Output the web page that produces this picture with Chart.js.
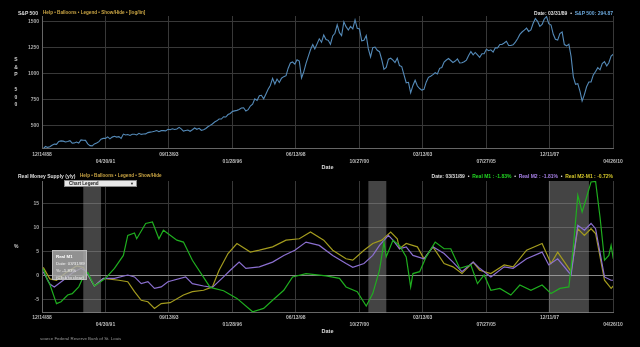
<!DOCTYPE html>
<html>
<head>
<meta charset="utf-8">
<script src="https://cdn.jsdelivr.net/npm/chart.js@4.4.1/dist/chart.umd.min.js"></script>
<style>
  body { margin: 0; background: #000; width: 640px; height: 347px; overflow: hidden; position: relative;
         font-family: "Liberation Sans", Arial, sans-serif; }
  .box { position: absolute; }
  .t { position: absolute; white-space: nowrap; line-height: 8px; height: 8px; font-size: 5px; color: #ddd; }
  .b { font-weight: bold; }
  .help { color: #c9a443; font-weight: bold; font-size: 4.6px; }
  .blue { color: #6aa6d8; }
  .green { color: #22d422; }
  .purple { color: #a880e8; }
  .yellow { color: #d4c62a; }
  #legendBox { position: absolute; left: 64px; top: 180px; width: 73px; height: 7px; background: #e8e8e8;
               border: 1px solid #888; box-sizing: border-box; font-size: 4.6px; font-weight: bold; color: #222;
               line-height: 5px; padding-left: 4px; }
  #legendBox span { position: absolute; right: 2px; top: 0; font-size: 4px; }
  #tip { position: absolute; left: 52px; top: 250px; width: 35px; height: 30px; background: rgba(170,170,170,0.85);
         border: 1px solid #bbb; box-sizing: border-box; font-size: 4.4px; color: #f2f2f2; padding: 2px 0 0 3px; line-height: 7px; }
</style>
</head>
<body>
<div class="box" style="left:0;top:0;width:640px;height:172px"><canvas id="spxChart"></canvas></div>
<div class="box" style="left:0;top:172px;width:640px;height:175px"><canvas id="moneyChart"></canvas></div>

<div class="t b" style="left:18px;top:9px">S&amp;P 500</div>
<div class="t help" style="left:43px;top:9px">Help &bull; Balloons &bull; Legend &bull; Show/Hide &bull; [log/lin]</div>
<div class="t b" style="right:27px;top:9px">Date: 03/31/89 &nbsp;&bull;&nbsp; <span class="blue">S&amp;P 500: 294.87</span></div>
<div class="t b" style="left:14px;top:56px;width:4px;text-align:center;line-height:7.5px;height:60px;color:#ccc">S<br>&amp;<br>P<br><br>5<br>0<br>0</div>

<div class="t b" style="left:18px;top:172px">Real Money Supply (y/y)</div>
<div class="t help" style="left:80px;top:172px">Help &bull; Balloons &bull; Legend &bull; Show/Hide</div>
<div class="t b" style="right:27px;top:172px">Date: 03/31/89 &nbsp;&bull;&nbsp; <span class="green">Real M1 : -1.83%</span> &nbsp;&bull;&nbsp; <span class="purple">Real M2 : -1.81%</span> &nbsp;&bull;&nbsp; <span class="yellow">Real M2-M1 : -0.72%</span></div>
<div id="legendBox">Chart Legend<span>&#9660;</span></div>
<div class="t b" style="left:14px;top:242px;color:#ccc">%</div>
<div id="tip"><b style="color:#fff">Real M1</b><br>Date: 03/31/89<br>%: -1.83%<br>(Click to clear)</div>
<div class="t" style="left:40px;top:335px;font-size:4.4px;color:#999">source Federal Reserve Bank of St. Louis</div>

<script>
// S&P 500 monthly closes, Dec 1988 .. Apr 2010
const spxFirstMonth = '1988-12';
const spxClose = [
  277.72,
  297.47, 288.86, 294.87, 309.64, 320.52, 317.98, 346.08, 351.45, 349.15, 340.36, 345.99, 353.40,
  329.08, 331.89, 339.94, 330.80, 361.23, 358.02, 356.15, 322.56, 306.05, 304.00, 322.22, 330.22,
  343.93, 367.07, 375.22, 375.34, 389.83, 371.16, 387.81, 395.43, 387.86, 392.46, 375.22, 417.09,
  408.79, 412.70, 403.69, 414.95, 415.35, 408.14, 424.21, 414.03, 417.80, 418.68, 431.35, 435.71,
  438.78, 443.38, 451.67, 440.19, 450.19, 450.53, 448.13, 463.56, 458.93, 467.83, 461.79, 466.45,
  481.61, 467.14, 445.77, 450.91, 456.50, 444.27, 458.26, 475.49, 462.69, 472.35, 453.69, 459.27,
  470.42, 487.39, 500.71, 514.71, 533.40, 544.75, 562.06, 561.88, 584.41, 581.50, 605.37, 615.93,
  636.02, 640.43, 645.50, 654.17, 669.12, 670.63, 639.95, 651.99, 687.31, 705.27, 757.02, 740.74,
  786.16, 790.82, 757.12, 801.34, 848.28, 885.14, 954.29, 899.47, 947.28, 914.62, 955.40, 970.43,
  980.28, 1049.34, 1101.75, 1111.75, 1090.82, 1133.84, 1120.67, 957.28, 1017.01, 1098.67, 1163.63, 1229.23,
  1279.64, 1238.33, 1286.37, 1335.18, 1301.84, 1372.71, 1328.72, 1320.41, 1282.71, 1362.93, 1388.91, 1469.25,
  1394.46, 1366.42, 1498.58, 1452.43, 1420.60, 1454.60, 1430.83, 1517.68, 1436.51, 1429.40, 1314.95, 1320.28,
  1366.01, 1239.94, 1160.33, 1249.46, 1255.82, 1224.42, 1211.23, 1133.58, 1040.94, 1059.78, 1139.45, 1148.08,
  1130.20, 1106.73, 1147.39, 1076.92, 1067.14, 989.82, 911.62, 916.07, 815.28, 885.76, 936.31, 879.82,
  855.70, 841.15, 848.18, 916.92, 963.59, 974.50, 990.31, 1008.01, 995.97, 1050.71, 1058.20, 1111.92,
  1131.13, 1144.94, 1126.21, 1107.30, 1120.68, 1140.84, 1101.72, 1104.24, 1114.58, 1130.20, 1173.82, 1211.92,
  1181.27, 1203.60, 1180.59, 1156.85, 1191.50, 1191.33, 1234.18, 1220.33, 1228.81, 1207.01, 1249.48, 1248.29,
  1280.08, 1280.66, 1294.83, 1310.61, 1270.09, 1270.20, 1276.66, 1303.82, 1335.85, 1377.94, 1400.63, 1418.30,
  1438.24, 1406.82, 1420.86, 1482.37, 1530.62, 1503.35, 1455.27, 1473.99, 1526.75, 1549.38, 1481.14, 1468.36,
  1378.55, 1330.63, 1322.70, 1385.59, 1400.38, 1280.00, 1267.38, 1282.83, 1166.36, 968.75, 896.24, 903.25,
  825.88, 735.09, 797.87, 872.81, 919.14, 919.32, 987.48, 1020.62, 1057.08, 1036.19, 1095.63, 1115.10,
  1073.87, 1104.49, 1169.43, 1186.69
];

// Real M1, y/y %
const m1Months = ['1988-12','1989-02','1989-03','1989-06','1989-08','1989-11','1990-01','1990-04','1990-06','1990-08',
  '1990-11','1991-01','1991-04','1991-08','1991-12','1992-02','1992-05','1992-06','1992-10','1993-01',
  '1993-04','1993-06','1993-12','1994-03','1994-07','1995-03','1995-09','1996-03','1996-10','1997-03',
  '1997-07','1997-12','1998-04','1998-10','1999-07','2000-01','2000-04','2000-09','2001-01','2001-04',
  '2001-07','2001-09','2001-10','2002-01','2002-04','2002-07','2002-09','2002-10','2003-01','2003-04',
  '2003-08','2003-12','2004-03','2004-07','2004-12','2005-03','2005-06','2005-09','2006-01','2006-06',
  '2006-10','2007-03','2007-08','2007-12','2008-04','2008-08','2008-10','2008-12','2009-02','2009-04',
  '2009-06','2009-08','2009-10','2009-12','2010-02','2010-03','2010-04'];
const m1Values = [1.4, -1.0, -1.83, -5.9, -5.5, -4.1, -3.8, -2.4, -0.3, 0.6,
  -2.2, -1.6, -0.6, 1.5, 4.2, 8.4, 8.9, 7.7, 10.9, 11.2,
  7.7, 9.5, 7.4, 7.0, 3.2, -2.5, -3.2, -4.8, -7.6, -6.9,
  -5.2, -3.1, -0.3, 0.4, -0.1, -0.6, -2.4, -3.4, -6.4, -3.8,
  1.1, 7.0, 3.9, 7.4, 6.3, 3.9, -2.4, 0.4, 0.8, 3.9,
  7.0, 5.6, 5.6, 1.5, 2.2, -1.7, 0.1, -3.1, -2.7, -4.1,
  -2.0, -3.1, -2.0, -3.8, -2.7, -2.4, 6.0, 16.8, 13.3, 16.4,
  19.6, 19.7, 12.2, 3.2, 4.2, 6.3, 3.5];

// Real M2, y/y %
const m2Months = ['1988-12','1989-03','1989-05','1989-09','1990-01','1990-05','1990-07','1990-11','1991-03','1991-08',
  '1992-02','1992-05','1992-08','1992-11','1993-02','1993-05','1993-08','1994-04','1994-07','1994-12',
  '1995-04','1995-09','1995-12','1996-04','1996-07','1997-01','1997-07','1997-12','1998-05','1998-10',
  '1999-04','1999-10','2000-04','2000-07','2000-12','2001-04','2001-07','2001-11','2002-01','2002-04',
  '2002-07','2002-10','2003-03','2003-07','2003-12','2004-04','2004-08','2005-01','2005-04','2005-09',
  '2006-03','2006-07','2007-01','2007-08','2007-11','2008-03','2008-09','2008-12','2009-03','2009-06',
  '2009-08','2009-12','2010-03','2010-04'];
const m2Values = [0.8, -1.81, -2.4, -1.0, 0.5, 1.5, 1.0, -2.2, -0.6, -0.6,
  0.1, -0.3, -1.7, -1.3, -2.7, -2.4, -1.3, -0.3, -1.7, -2.2,
  -2.5, -0.3, 1.1, 2.8, 1.5, 1.8, 2.8, 4.2, 5.3, 7.0,
  6.3, 4.2, 2.5, 1.7, 2.5, 4.2, 6.3, 8.4, 7.4, 5.6,
  6.0, 4.2, 3.5, 6.0, 4.6, 2.8, 0.8, 2.8, 1.5, -0.3,
  1.8, 1.5, 3.5, 4.9, 2.2, 3.5, 0.1, 10.5, 9.5, 10.9,
  9.8, -0.3, -1.0, -1.0];

// Real M2-M1, y/y %
const mzMonths = ['1988-12','1989-03','1989-06','1989-10','1990-03','1990-06','1990-11','1991-03','1991-10','1992-02',
  '1992-05','1992-08','1992-11','1993-02','1993-05','1993-09','1994-03','1994-07','1994-12','1995-04',
  '1995-07','1995-11','1996-03','1996-09','1997-01','1997-07','1998-01','1998-07','1998-12','1999-06',
  '1999-10','2000-04','2000-07','2000-12','2001-04','2001-08','2001-12','2002-03','2002-04','2002-07',
  '2002-12','2003-03','2003-07','2003-12','2004-04','2004-08','2005-01','2005-04','2005-09','2006-03',
  '2006-07','2007-01','2007-08','2007-12','2008-03','2008-09','2008-12','2009-03','2009-06','2009-08',
  '2009-12','2010-03','2010-04'];
const mzValues = [1.7, -0.72, -1.0, 0.5, 2.0, 1.7, -2.2, -0.6, -1.0, -1.3,
  -3.4, -5.2, -5.5, -6.9, -5.9, -5.7, -4.1, -3.4, -3.1, -2.4,
  1.1, 4.6, 6.7, 4.9, 5.3, 6.0, 7.4, 7.7, 9.1, 7.4,
  5.3, 3.5, 3.2, 5.3, 6.7, 7.4, 9.1, 7.7, 5.6, 6.7,
  6.0, 3.5, 6.0, 2.5, 1.8, 0.4, 2.8, 1.1, 0.4, 2.2,
  1.8, 5.3, 6.7, 2.5, 4.9, 0.8, 9.8, 8.4, 9.8, 8.8,
  -1.0, -2.7, -2.2];

const dateTicks = ['12/14/88', '04/30/91', '09/13/93', '01/28/96', '06/13/98', '10/27/00', '03/13/03', '07/27/05', '12/11/07', '04/26/10'];
const spxTicks = [500, 750, 1000, 1250, 1500];
const pctTicks = [-5, 0, 5, 10, 15];
const recessionStart = ['1990-07-01', '2001-03-01', '2007-12-01'];
const recessionEnd = ['1991-03-01', '2001-11-01', '2009-06-01'];

function monthEnd(ym) {
  const [y, m] = ym.split('-').map(Number);
  return Date.UTC(y, m, 0);
}
function mdy(s) {
  const [m, d, y] = s.split('/').map(Number);
  return Date.UTC(y < 50 ? 2000 + y : 1900 + y, m - 1, d);
}
const tickValues = dateTicks.map(mdy);
const toPoints = (months, values) => months.map((m, i) => ({ x: monthEnd(m), y: values[i] }));

const [spxY, spxM] = spxFirstMonth.split('-').map(Number);
const spxPoints = spxClose.map((v, i) => ({ x: Date.UTC(spxY, spxM + i, 0), y: v }));

Chart.defaults.font.family = '"Liberation Sans", Arial, sans-serif';
Chart.defaults.font.size = 5;
Chart.defaults.color = '#bbb';

function dateAxis(tickPad, height, titlePad) {
  return {
    type: 'linear',
    min: tickValues[0],
    max: tickValues[tickValues.length - 1],
    afterBuildTicks: (scale) => { scale.ticks = tickValues.map(v => ({ value: v })); },
    afterFit: (scale) => { scale.height = height; },
    grid: { color: '#383838', drawTicks: false },
    border: { color: '#666' },
    ticks: {
      autoSkip: false, maxRotation: 0, padding: tickPad, color: '#bbb',
      font: { size: 5, weight: 'bold', lineHeight: 1.5 },
      callback: (value, index) => index % 2 ? ['', dateTicks[index]] : dateTicks[index]
    },
    title: { display: true, text: 'Date', color: '#ddd', font: { size: 5.5, weight: 'bold', lineHeight: 1.2 },
             padding: { top: 0, bottom: titlePad } }
  };
}

const recessionBands = {
  id: 'recessionBands',
  beforeDatasetsDraw(chart) {
    const { ctx, chartArea, scales: { x } } = chart;
    ctx.save();
    ctx.fillStyle = 'rgba(170,170,170,0.4)';
    recessionStart.forEach((s, i) => {
      const x0 = x.getPixelForValue(Date.parse(s));
      const x1 = x.getPixelForValue(Date.parse(recessionEnd[i]));
      ctx.fillRect(x0, chartArea.top, x1 - x0, chartArea.bottom - chartArea.top);
    });
    ctx.restore();
  }
};

new Chart(document.getElementById('spxChart'), {
  type: 'line',
  data: {
    datasets: [{ label: 'S&P 500', data: spxPoints, borderColor: '#548ab8', borderWidth: 1.1, pointRadius: 0, tension: 0 }]
  },
  options: {
    responsive: true, maintainAspectRatio: false, animation: false,
    layout: { padding: { top: 16, right: 27, left: 0, bottom: 0 } },
    plugins: { legend: { display: false }, tooltip: { enabled: false } },
    scales: {
      x: dateAxis(2.2, 23.7, 1.2),
      y: {
        min: 280, max: 1555,
        afterBuildTicks: (scale) => { scale.ticks = spxTicks.map(v => ({ value: v })); },
        afterFit: (scale) => { scale.width = 42; },
        grid: { color: '#383838', drawTicks: false },
        border: { color: '#666' },
        ticks: { padding: 3, color: '#aaa', font: { size: 5, weight: 'bold' }, callback: (v) => String(v) }
      }
    }
  }
});

new Chart(document.getElementById('moneyChart'), {
  type: 'line',
  data: {
    datasets: [
      { label: 'Real M1', data: toPoints(m1Months, m1Values), borderColor: '#1fae1f', borderWidth: 1.2, pointRadius: 0, tension: 0 },
      { label: 'Real M2', data: toPoints(m2Months, m2Values), borderColor: '#8b6fd0', borderWidth: 1.2, pointRadius: 0, tension: 0 },
      { label: 'Real M2-M1', data: toPoints(mzMonths, mzValues), borderColor: '#a39b1e', borderWidth: 1.2, pointRadius: 0, tension: 0 }
    ]
  },
  options: {
    responsive: true, maintainAspectRatio: false, animation: false,
    layout: { padding: { top: 9, right: 27, left: 0, bottom: 12 } },
    plugins: { legend: { display: false }, tooltip: { enabled: false } },
    scales: {
      x: dateAxis(0.9, 22.3, 0.2),
      y: {
        min: -7.8, max: 19.8,
        afterBuildTicks: (scale) => { scale.ticks = pctTicks.map(v => ({ value: v })); },
        afterFit: (scale) => { scale.width = 42; },
        grid: { color: (c) => c.tick && c.tick.value === 0 ? '#888' : '#383838', drawTicks: false },
        border: { color: '#666' },
        ticks: { padding: 3, color: '#aaa', font: { size: 5, weight: 'bold' }, callback: (v) => String(v) }
      }
    }
  },
  plugins: [recessionBands]
});
</script>
</body>
</html>
